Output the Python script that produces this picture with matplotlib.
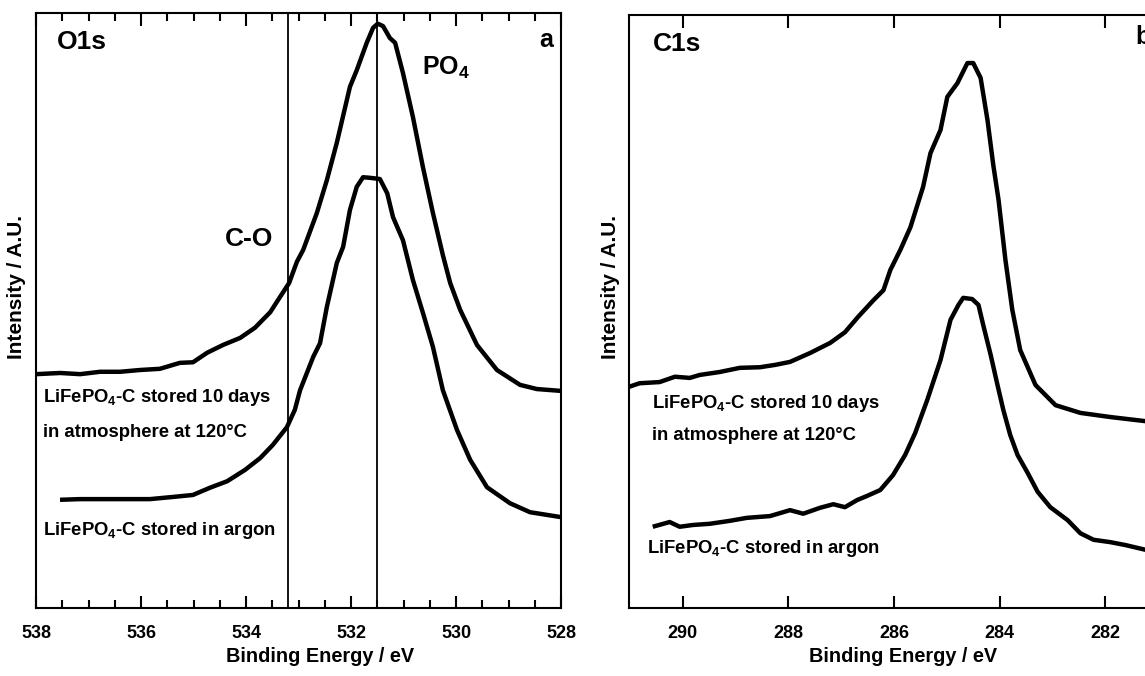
import matplotlib

matplotlib.use("Agg")
import matplotlib.pyplot as plt

plt.rcParams["font.family"] = ["Liberation Sans", "DejaVu Sans"]
plt.rcParams["font.weight"] = "bold"
plt.rcParams["mathtext.fontset"] = "custom"
plt.rcParams["mathtext.rm"] = "Liberation Sans"
plt.rcParams["mathtext.bf"] = "Liberation Sans:bold"
plt.rcParams["mathtext.default"] = "bf"

# O1s spectra (binding energy eV, intensity a.u.)
o1s_atm_ev = [538.00, 537.54, 537.16, 536.78, 536.40, 536.02, 535.64, 535.26, 535.01, 534.74,
              534.44, 534.11, 533.83, 533.54, 533.35, 533.18, 533.03, 532.91, 532.65, 532.46,
              532.27, 532.02, 531.89, 531.70, 531.58, 531.49, 531.39, 531.26, 531.16, 531.01,
              530.82, 530.63, 530.44, 530.25, 530.11, 529.92, 529.60, 529.22, 528.78, 528.46, 528.02]
o1s_atm_int = [39.3, 39.5, 39.3, 39.7, 39.7, 40.0, 40.2, 41.2, 41.3, 42.9,
               44.2, 45.4, 47.1, 49.7, 52.3, 54.6, 58.2, 60.2, 66.4, 71.9,
               78.2, 87.6, 90.4, 95.0, 97.5, 98.2, 97.8, 95.8, 95.0, 89.9,
               82.5, 74.1, 66.4, 59.3, 54.6, 50.1, 44.2, 40.0, 37.5, 36.8, 36.5]

o1s_ar_ev = [537.50, 537.16, 536.78, 536.30, 535.83, 535.35, 535.01, 534.69, 534.36, 534.02,
             533.73, 533.49, 533.22, 533.07, 532.97, 532.72, 532.59, 532.46, 532.27, 532.15,
             532.02, 531.89, 531.77, 531.64, 531.45, 531.31, 531.20, 531.01, 530.82, 530.63,
             530.44, 530.25, 529.98, 529.73, 529.41, 528.97, 528.59, 528.02]
o1s_ar_int = [18.2, 18.3, 18.3, 18.3, 18.3, 18.7, 19.0, 20.2, 21.3, 23.2,
              25.2, 27.4, 30.4, 33.3, 36.6, 42.2, 44.5, 50.6, 58.0, 60.7,
              66.9, 70.8, 72.4, 72.3, 72.1, 69.7, 65.7, 61.8, 55.1, 49.6,
              43.9, 36.6, 29.9, 24.9, 20.3, 17.6, 16.1, 15.3]

# C1s spectra
c1s_atm_ev = [291.02, 290.82, 290.44, 290.15, 289.87, 289.68, 289.30, 288.92, 288.54, 288.25,
              287.97, 287.59, 287.21, 286.93, 286.68, 286.39, 286.20, 286.07, 285.88, 285.69,
              285.45, 285.31, 285.12, 284.99, 284.80, 284.61, 284.50, 284.36, 284.23, 284.12,
              284.02, 283.89, 283.76, 283.61, 283.32, 282.94, 282.47, 281.90, 281.23]
c1s_atm_int = [37.3, 37.9, 38.1, 39.0, 38.8, 39.3, 39.8, 40.5, 40.6, 41.0,
               41.5, 43.0, 44.7, 46.5, 49.1, 51.9, 53.6, 57.0, 60.4, 64.2,
               71.0, 76.7, 80.6, 86.2, 88.5, 91.9, 91.9, 89.4, 82.3, 74.7,
               68.8, 58.7, 50.3, 43.5, 37.6, 34.2, 32.9, 32.2, 31.5]

c1s_ar_ev = [290.53, 290.25, 290.06, 289.81, 289.49, 289.11, 288.79, 288.35, 287.97, 287.72,
             287.40, 287.15, 286.93, 286.70, 286.51, 286.26, 286.02, 285.79, 285.60, 285.37,
             285.12, 284.93, 284.78, 284.69, 284.52, 284.40, 284.31, 284.17, 284.04, 283.93,
             283.80, 283.66, 283.47, 283.28, 283.04, 282.71, 282.47, 282.22, 281.90, 281.61, 281.23]
c1s_ar_int = [13.8, 14.5, 13.7, 14.0, 14.2, 14.7, 15.2, 15.5, 16.5, 15.9,
              16.9, 17.5, 17.0, 18.2, 18.9, 19.9, 22.4, 25.8, 29.5, 35.1,
              41.8, 48.6, 51.1, 52.3, 52.1, 51.1, 47.7, 42.7, 37.6, 33.4,
              29.2, 25.8, 22.8, 19.6, 17.0, 14.8, 12.6, 11.5, 11.1, 10.6, 9.8]

o1s_ticks = [538, 536, 534, 532, 530, 528]
o1s_minor = [537.5, 537, 536.5, 535.5, 535, 534.5, 533.5, 533, 532.5,
             531.5, 531, 530.5, 529.5, 529, 528.5]
c1s_ticks = [290, 288, 286, 284, 282]
o1s_marks = [533.2, 531.5]

W, H = 1145, 676
fig = plt.figure(figsize=(W / 100, H / 100), dpi=100)
fig.patch.set_facecolor("white")


def px_axes(left, top, right, bottom):
    return fig.add_axes([left / W, (H - bottom) / H, (right - left) / W, (bottom - top) / H])


def style(ax, ticks, minor, xlim):
    for sp in ax.spines.values():
        sp.set_linewidth(1.5)
    ax.set_xticks(ticks)
    ax.set_xticklabels([str(t) for t in ticks], fontsize=13, fontweight="bold")
    if minor:
        ax.set_xticks(minor, minor=True)
    ax.set_yticks([])
    ax.tick_params(axis="x", which="major", direction="in", length=9, width=1.5, top=True, pad=12)
    ax.tick_params(axis="x", which="minor", direction="in", length=6, width=1.5, top=True)
    ax.set_xlim(*xlim)
    ax.set_ylim(0, 100)


label_kw = dict(fontsize=13.3, fontweight="bold", va="baseline")

# panel a
ax1 = px_axes(36, 13, 561, 608)
ax1.plot(o1s_atm_ev, o1s_atm_int, color="black", lw=3.2, solid_joinstyle="round")
ax1.plot(o1s_ar_ev, o1s_ar_int, color="black", lw=3.2, solid_joinstyle="round")
for m in o1s_marks:
    ax1.axvline(m, color="black", lw=1.3)
style(ax1, o1s_ticks, o1s_minor, (538, 528))
ax1.text(0.04, 0.951, "O1s", transform=ax1.transAxes, fontsize=19, fontweight="bold", va="center")
ax1.text(0.985, 0.955, "a", transform=ax1.transAxes, fontsize=18, fontweight="bold", va="center", ha="right")
ax1.text(530.65, 90.8, r"PO$_4$", fontsize=18, fontweight="bold", va="center")
ax1.text(533.94, 62.0, "C-O", fontsize=19, fontweight="bold", va="center", ha="center")
ax1.text(537.87, 34.6, r"LiFePO$_4$-C stored 10 days", **label_kw)
ax1.text(537.87, 28.7, "in atmosphere at 120°C", **label_kw)
ax1.text(537.87, 12.3, r"LiFePO$_4$-C stored in argon", **label_kw)

# panel b
ax2 = px_axes(629, 15, 1158, 608)
ax2.plot(c1s_atm_ev, c1s_atm_int, color="black", lw=3.2, solid_joinstyle="round")
ax2.plot(c1s_ar_ev, c1s_ar_int, color="black", lw=3.2, solid_joinstyle="round")
style(ax2, c1s_ticks, None, (291.02, 281.0))
ax2.text(0.045, 0.951, "C1s", transform=ax2.transAxes, fontsize=19, fontweight="bold", va="center")
ax2.text(0.957, 0.963, "b", transform=ax2.transAxes, fontsize=18, fontweight="bold", va="center")
ax2.text(290.59, 33.7, r"LiFePO$_4$-C stored 10 days", **label_kw)
ax2.text(290.59, 28.3, "in atmosphere at 120°C", **label_kw)
ax2.text(290.68, 9.3, r"LiFePO$_4$-C stored in argon", **label_kw)

for xc in (320, 903):
    fig.text(xc / W, (H - 657) / H, "Binding Energy / eV", fontsize=14.3, fontweight="bold",
             ha="center", va="center")
for xc in (17, 611):
    fig.text(xc / W, (H - 287) / H, "Intensity / A.U.", fontsize=15, fontweight="bold",
             ha="center", va="center", rotation=90)

fig.savefig("out.png", dpi=100)
